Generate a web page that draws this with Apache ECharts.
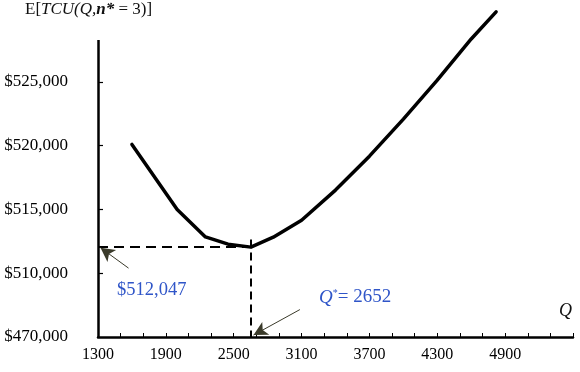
<!DOCTYPE html>
<html>
<head>
<meta charset="utf-8">
<script src="https://cdn.jsdelivr.net/npm/echarts@6/dist/echarts.min.js"></script>
<style>
  html, body { margin: 0; padding: 0; background: #fff; }
  #chart { width: 580px; height: 372px; }
</style>
</head>
<body>
<div id="chart"></div>
<script>
// order quantity Q and expected total cost E[TCU(Q, n*=3)]
const qValues = [1600, 2000, 2250, 2450, 2652, 2850, 3100, 3400, 3700, 4000, 4300, 4600, 4820]
const costValues = [520100, 515000, 512850, 512280, 512047, 512830, 514160, 516520, 519180, 522090, 525150, 528370, 530500]

const qStar = 2652
const costStar = 512047

// axis ticks / labels (y axis is broken: bottom label reads $470,000)
const xTicks = [1300, 1500, 1700, 1900, 2100, 2300, 2500, 2700, 2900, 3100, 3300, 3500, 3700, 3900, 4100, 4300, 4500, 4700, 4900, 5100, 5300, 5500]
const xLabels = [1300, 1900, 2500, 3100, 3700, 4300, 4900]
const yTicks = [510000, 515000, 520000, 525000]
const yLabelValues = [505000, 510000, 515000, 520000, 525000]
const yLabelTexts = ['$470,000', '$510,000', '$515,000', '$520,000', '$525,000']

const xMin = 1300, xMax = 5500
const yMin = 505000, yMax = 530800, yAxisTop = 528300

const serif = '"Liberation Serif", "Times New Roman", serif'
const blue = '#2f55c8'

const chart = echarts.init(document.getElementById('chart'))

chart.setOption({
    animation: false,
    grid: { left: 98, right: 7, top: 8, bottom: 35 },
    xAxis: {
        type: 'value',
        min: xMin,
        max: xMax,
        splitLine: { show: false },
        axisLine: { show: true, lineStyle: { color: '#000', width: 2.5 } },
        axisTick: { show: true, inside: true, length: 4, customValues: xTicks, lineStyle: { color: '#000', width: 1 } },
        axisLabel: {
            customValues: xLabels,
            margin: 10,
            color: '#000',
            fontFamily: serif,
            fontSize: 16,
            formatter: (v) => String(v)
        }
    },
    yAxis: {
        type: 'value',
        min: yMin,
        max: yMax,
        splitLine: { show: false },
        axisLine: { show: false },
        axisTick: { show: true, inside: true, length: 5, customValues: yTicks, lineStyle: { color: '#000', width: 1.2 } },
        axisLabel: {
            customValues: yLabelValues,
            margin: 30,
            color: '#000',
            fontFamily: serif,
            fontSize: 17,
            formatter: (v) => {
                const i = yLabelValues.indexOf(v)
                return i >= 0 ? yLabelTexts[i] : ''
            }
        }
    },
    series: [
        {
            type: 'line',
            clip: false,
            data: qValues.map((q, i) => [q, costValues[i]]),
            symbol: 'none',
            lineStyle: { color: '#000', width: 3.5, cap: 'round', join: 'round' },
            z: 5,
            markLine: {
                silent: true,
                symbol: ['none', 'none'],
                label: { show: false },
                data: [
                    // y axis line (stops below the plotted curve end)
                    [
                        { coord: [xMin, yMin], lineStyle: { type: 'solid', width: 2.5, color: '#000' } },
                        { coord: [xMin, yAxisTop] }
                    ],
                    // dashed guide lines to the optimum
                    [
                        { coord: [xMin, costStar], lineStyle: { type: [10, 6], width: 2, color: '#000' } },
                        { coord: [qStar, costStar] }
                    ],
                    [
                        { coord: [qStar, 512650], lineStyle: { type: [8, 5], width: 2, color: '#000' } },
                        { coord: [qStar, yMin] }
                    ]
                ]
            }
        },
        {
            // annotation arrows
            type: 'line',
            clip: false,
            data: [],
            markLine: {
                silent: true,
                symbol: ['none', 'arrow'],
                symbolSize: [11, 14],
                label: { show: false },
                lineStyle: { type: 'solid', width: 1, color: '#3a3a2a' },
                data: [
                    [{ coord: [1570, 510400] }, { coord: [1322, 512000] }],
                    [{ coord: [3085, 507150] }, { coord: [2675, 505150] }]
                ]
            }
        }
    ],
    graphic: [
        {
            type: 'text',
            left: 25,
            top: 1,
            style: {
                text: '{r|E[}{i|TCU(Q,}{b|n*}{r| = 3)]}',
                rich: {
                    r: { fontFamily: serif, fontSize: 17, fill: '#111' },
                    i: { fontFamily: serif, fontSize: 17, fontStyle: 'italic', fill: '#111' },
                    b: { fontFamily: serif, fontSize: 17, fontStyle: 'italic', fontWeight: 'bold', fill: '#111' }
                }
            }
        },
        {
            type: 'text',
            left: 559,
            top: 302,
            style: { text: 'Q', fontFamily: serif, fontSize: 18, fontStyle: 'italic', fill: '#111' }
        },
        {
            type: 'text',
            left: 117,
            top: 281,
            style: { text: '$512,047', fontFamily: serif, fontSize: 18.5, fill: blue }
        },
        {
            type: 'text',
            left: 319,
            top: 288,
            style: {
                text: '{q|Q}{s|*}{r|= 2652}',
                rich: {
                    q: { fontFamily: serif, fontSize: 19, fontStyle: 'italic', fill: blue },
                    s: { fontFamily: serif, fontSize: 10, fill: blue, verticalAlign: 'top', padding: [0, 0, 9, 0] },
                    r: { fontFamily: serif, fontSize: 19, fill: blue }
                }
            }
        }
    ]
})
</script>
</body>
</html>
